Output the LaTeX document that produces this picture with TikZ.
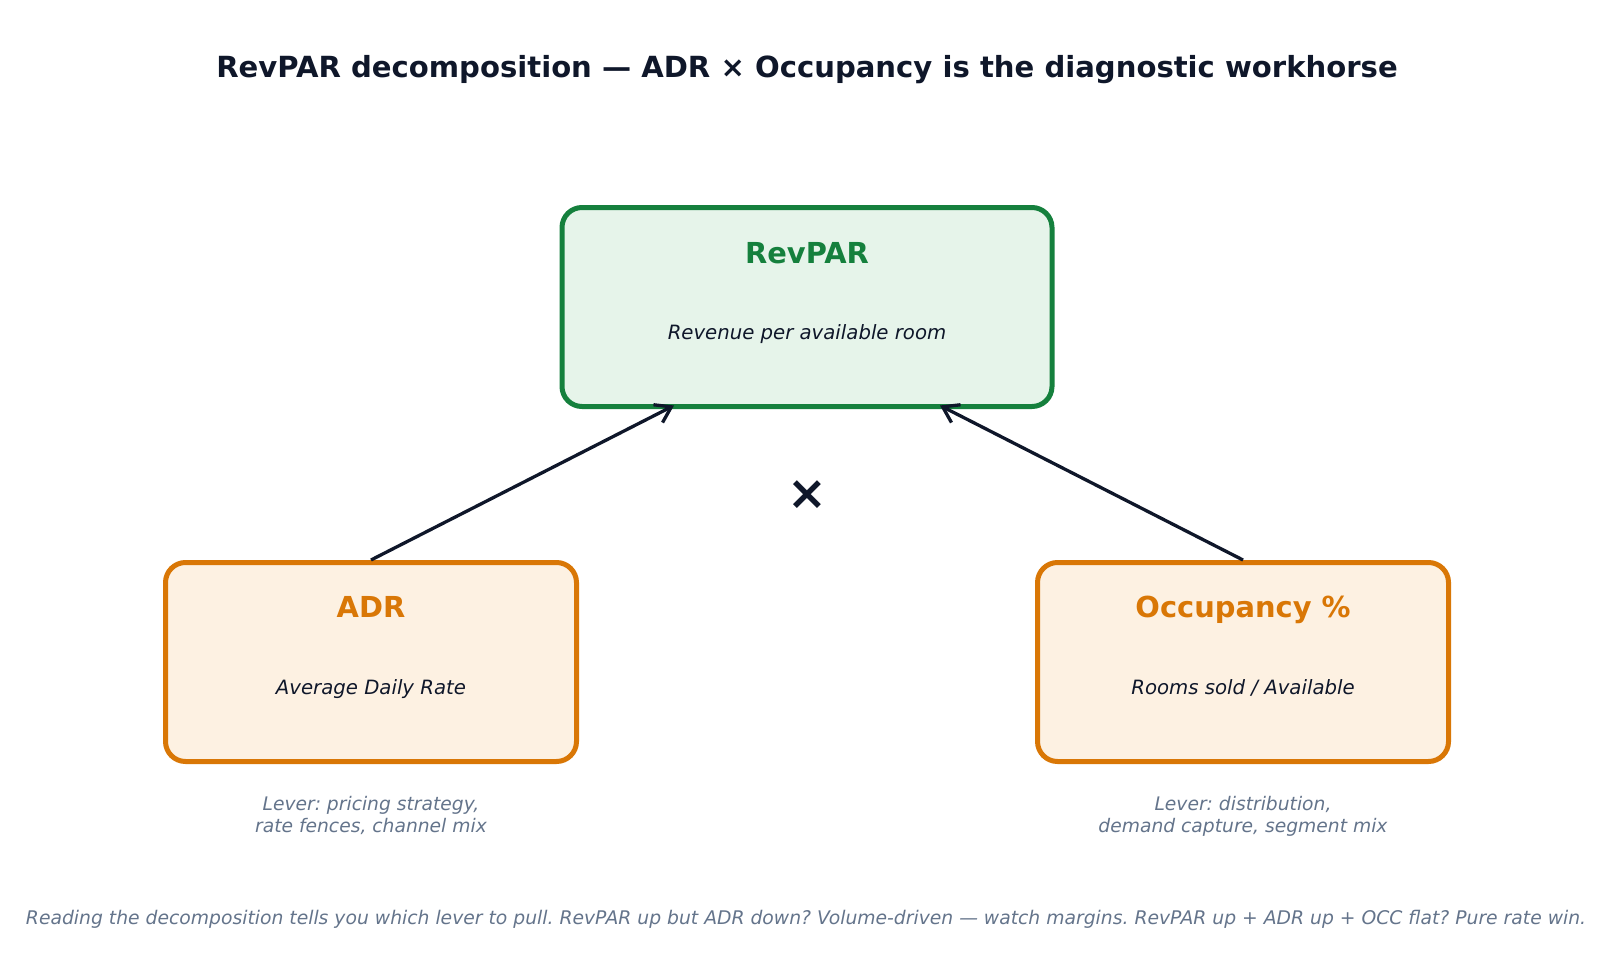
\documentclass[tikz,border=0pt]{standalone}
\usepackage{fontspec}
\usepackage{graphicx}
\setmainfont{DejaVu Sans}
\frenchspacing
\usetikzlibrary{arrows.meta}
\usetikzlibrary{positioning}
\definecolor{ink}{HTML}{0F172A}
\definecolor{revgreen}{HTML}{15803D}
\definecolor{revfill}{HTML}{E6F4EA}
\definecolor{levorange}{HTML}{D97706}
\definecolor{levfill}{HTML}{FDF1E2}
\definecolor{muted}{HTML}{64748B}
\tikzset{
    metric/.style={
        rectangle,
        rounded corners=20pt,
        line width=5pt,
        minimum height=199pt,
        inner sep=0pt
    },
    topmetric/.style={
        metric,
        draw=revgreen,
        fill=revfill,
        minimum width=490pt
    },
    factor/.style={
        metric,
        draw=levorange,
        fill=levfill,
        minimum width=411pt
    },
    heading/.style={
        anchor=base,
        inner sep=0pt,
        font=\fontsize{28.9}{34}\selectfont\bfseries
    },
    subline/.style={
        anchor=base,
        inner sep=0pt,
        text=ink,
        font=\fontsize{19.7}{24}\selectfont\itshape
    },
    lever/.style={
        inner sep=0pt,
        align=center,
        text=muted,
        font=\fontsize{18.7}{22}\selectfont\itshape
    },
    arrow/.style={
        -{Straight Barb[length=15pt,width=20pt,line width=3.3pt]},
        line width=3.3pt,
        draw=ink
    }
}

\begin{document}
\begin{tikzpicture}[x=1pt,y=-1pt]

    % page frame
    \useasboundingbox (0,0) rectangle (1614,955);

    \node[anchor=base, inner sep=0pt, text=ink, font=\fontsize{29.1}{34}\selectfont\bfseries]
        (title) at (807,78) {RevPAR decomposition — ADR × Occupancy is the diagnostic workhorse};

    % the three boxes
    \node[topmetric] (rev) at (807,307) {};
    \node[factor] (adr) at (371,662) {};
    \node[factor] (occ) at (1243,662) {};

    \node[heading, text=revgreen] (revname) at ([yshift=-58pt]rev.north) {RevPAR};
    \node[subline] (revtext) at ([yshift=-32pt]rev.center) {Revenue per available room};

    \node[heading, text=levorange] (adrname) at ([yshift=-57.5pt]adr.north) {ADR};
    \node[subline] (adrtext) at ([yshift=-32pt]adr.center) {Average Daily Rate};

    \node[heading, text=levorange] (occname) at ([yshift=-57.5pt]occ.north) {Occupancy \%};
    \node[subline] (occtext) at ([yshift=-32pt]occ.center) {Rooms sold / Available};

    % levers under the factors
    \node[lever, below=32pt of adr] (adrlever) {Lever: pricing strategy,\\rate fences, channel mix};
    \node[lever, below=32pt of occ] (occlever) {Lever: distribution,\\demand capture, segment mix};

    % product sign
    \node[inner sep=0pt, text=ink, font=\fontsize{47.5}{48}\selectfont\bfseries] (times) at (807,495) {×};

    \draw[arrow] (adr.north) -- ([xshift=-133pt,yshift=3.5pt]rev.south);
    \draw[arrow] (occ.north) -- ([xshift=133pt,yshift=3.5pt]rev.south);

    \node[anchor=base, inner sep=0pt, text=muted, font=\fontsize{18.8}{22}\selectfont\itshape] (note) at (806,924)
        {\resizebox{1560pt}{\height}{Reading the decomposition tells you which lever to pull. RevPAR up but ADR down? Volume-driven — watch margins. RevPAR up + ADR up + OCC flat? Pure rate win.}};

\end{tikzpicture}
\end{document}
